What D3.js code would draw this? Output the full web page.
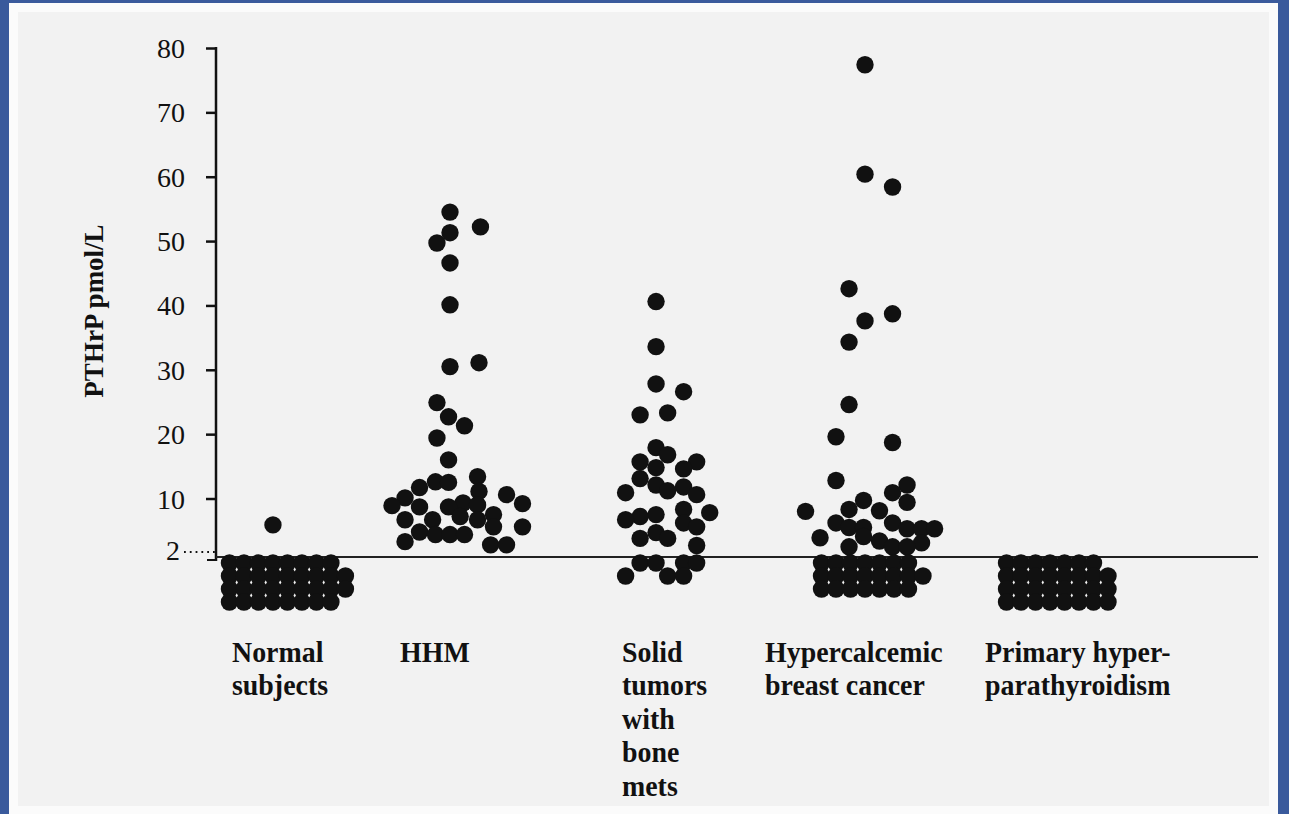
<!DOCTYPE html>
<html>
<head>
<meta charset="utf-8">
<script src="https://cdn.jsdelivr.net/npm/d3@7"></script>
<style>
  html, body { margin: 0; padding: 0; background: #3a5a9c; }
  svg { display: block; }
</style>
</head>
<body>
<svg id="chart" width="1289" height="814"></svg>
<script>
// ---- data -------------------------------------------------------------
const categories = ["Normal subjects", "HHM", "Solid tumors with bone mets",
                    "Hypercalcemic breast cancer", "Primary hyperparathyroidism"];
const categoryLines = [["Normal", "subjects"], ["HHM"],
                       ["Solid", "tumors", "with", "bone", "mets"],
                       ["Hypercalcemic", "breast cancer"],
                       ["Primary hyper-", "parathyroidism"]];
const yTicks = [10, 20, 30, 40, 50, 60, 70, 80];
const detectionLimit = 2;   // pmol/L

// measured PTHrP (pmol/L) and the lateral slot of each dot in its column
const normalValues = [5.9];
const normalSlots  = [-0.9];

const hhmValues = [54.5, 52.2, 51.3, 49.7, 46.6, 40.1, 31.1, 30.5, 24.9, 22.7, 21.3, 19.4,
                   16.0, 13.4, 12.6, 12.5, 11.7, 11.1, 10.6, 10.1, 9.3, 9.2, 9.0, 8.9, 8.7, 8.7,
                   7.5, 7.2, 6.7, 6.7, 6.7, 5.6, 5.6, 4.8, 4.4, 4.4, 4.4, 3.3, 2.8, 2.8];
const hhmSlots  = [-2.0, 0.1, -2.0, -2.9, -2.0, -2.0, 0.0, -2.0, -2.9, -2.1, -1.0, -2.9,
                   -2.1, -0.1, -3.0, -2.1, -4.1, 0.0, 1.9, -5.1, -1.1, 3.0, -0.1, -6.0, -4.1, -2.1,
                   1.0, -1.3, -5.1, -3.2, -0.1, 1.0, 3.0, -4.1, -3.0, -2.0, -1.0, -5.1, 0.8, 1.9];

const solidValues = [40.6, 33.6, 27.8, 26.6, 23.3, 23.0, 17.9, 16.8, 15.7, 15.7, 14.8, 14.6,
                     13.1, 12.1, 11.8, 11.2, 10.9, 10.6, 8.3, 7.8, 7.5, 7.2, 6.7, 6.2, 5.6,
                     4.7, 3.8, 3.8, 2.7];
const solidSlots  = [-1.1, -1.1, -1.1, 0.8, -0.3, -2.2, -1.1, -0.3, -2.2, 1.7, -1.1, 0.8,
                     -2.2, -1.1, 0.8, -0.3, -3.2, 1.7, 0.8, 2.6, -1.1, -2.2, -3.2, 0.8, 1.7,
                     -1.1, -2.2, -0.3, 1.7];

const breastValues = [77.4, 60.4, 58.4, 42.6, 38.7, 37.6, 34.3, 24.6, 19.6, 18.7, 12.8, 12.1, 10.9,
                      9.7, 9.4, 8.3, 8.1, 8.0, 6.2, 6.2, 5.5, 5.5, 5.3, 5.3, 5.3, 4.1, 3.9,
                      3.4, 3.1, 2.5, 2.5, 2.5];
const breastSlots  = [0.0, 0.0, 1.9, -1.1, 1.9, 0.0, -1.1, -1.1, -2.0, 1.9, -2.0, 2.9, 1.9,
                      -0.1, 2.9, -1.1, 1.0, -4.1, -2.0, 1.9, -1.1, -0.1, 2.9, 3.9, 4.8, -0.1, -3.1,
                      1.0, 3.9, 1.9, 2.9, -1.1];

const primaryValues = [];
const primarySlots  = [];

// results below the detection limit, stacked in rows under the baseline
const normalLowCounts  = [8, 9, 9, 8];
const normalLowStart   = -3.9;
const breastLowCounts  = [7, 8, 7];
const breastLowStart   = -3.0;
const primaryLowCounts = [7, 8, 8, 8];
const primaryLowStart  = -3.55;
const solidLowSlots    = [[-2.2, -1.1, 0.8, 1.7], [-3.2, -0.3, 0.8]];

// ---- layout -----------------------------------------------------------
const W = 1289, H = 814;
const dotR = 8.7;
const ink = "#111";
const serif = "'Liberation Serif', 'Times New Roman', 'DejaVu Serif', serif";

const x = d3.scalePoint().domain(categories).range([286, 1058]);
const y = d3.scaleLinear().domain([detectionLimit, 80]).range([550, 48]);
const slot = d3.scaleLinear().domain([0, 1]).range([0, 14.5]);
const lowRow = d3.scaleLinear().domain([0, 1]).range([563, 576]);
const labelDx = [-54, -79, -50, -100, -73];

const gridRows = (start, counts) => counts.map(n => d3.range(n).map(i => start + i));

const groups = [
  { cat: categories[0], values: normalValues,  slots: normalSlots,  low: gridRows(normalLowStart, normalLowCounts) },
  { cat: categories[1], values: hhmValues,     slots: hhmSlots,     low: [] },
  { cat: categories[2], values: solidValues,   slots: solidSlots,   low: solidLowSlots },
  { cat: categories[3], values: breastValues,  slots: breastSlots,  low: gridRows(breastLowStart, breastLowCounts) },
  { cat: categories[4], values: primaryValues, slots: primarySlots, low: gridRows(primaryLowStart, primaryLowCounts) }
];

const svg = d3.select("#chart");

// page: blue frame, white margin, pale paper
svg.append("rect").attr("width", W).attr("height", H).attr("fill", "#3a5a9c");
svg.append("rect").attr("x", 9).attr("y", 3).attr("width", W - 20).attr("height", H - 3).attr("fill", "#fbfbfb");
svg.append("rect").attr("x", 18).attr("y", 12).attr("width", W - 38).attr("height", H - 20).attr("fill", "#f2f2f2");

// y axis
const axisX = 216;
const yAxis = d3.axisLeft(y).tickValues(yTicks).tickSize(10).tickSizeOuter(0).tickPadding(21);
const gy = svg.append("g").attr("transform", `translate(${axisX},0)`).call(yAxis);
gy.select(".domain").remove();
gy.selectAll(".tick line").attr("stroke", ink).attr("stroke-width", 2.5);
gy.selectAll(".tick text").attr("fill", ink).attr("font-family", serif).attr("font-size", 28).attr("dy", "0.34em");

svg.append("line").attr("x1", axisX).attr("x2", axisX).attr("y1", y(80) - 1).attr("y2", 561)
  .attr("stroke", ink).attr("stroke-width", 2.5);
svg.append("line").attr("x1", axisX - 9).attr("x2", axisX + 1).attr("y1", 560).attr("y2", 560)
  .attr("stroke", ink).attr("stroke-width", 2);

// detection limit label with dotted leader
svg.append("text").attr("x", 180).attr("y", y(detectionLimit)).attr("dy", "0.34em")
  .attr("text-anchor", "end").attr("font-family", serif).attr("font-size", 28).attr("fill", ink)
  .text(detectionLimit);
svg.append("line").attr("x1", 184).attr("x2", axisX - 1).attr("y1", y(detectionLimit) + 2).attr("y2", y(detectionLimit) + 2)
  .attr("stroke", ink).attr("stroke-width", 1.8).attr("stroke-dasharray", "1.8,4");

// baseline separating detectable from undetectable results
svg.append("line").attr("x1", axisX).attr("x2", 1258).attr("y1", 557).attr("y2", 557)
  .attr("stroke", "#222").attr("stroke-width", 2.2);

// axis title
svg.append("text").attr("transform", `translate(103,311) rotate(-90)`)
  .attr("text-anchor", "middle").attr("font-family", serif).attr("font-weight", "bold")
  .attr("font-size", 27).attr("fill", ink).text("PTHrP pmol/L");

// dots
groups.forEach(g => {
  const cx0 = x(g.cat);
  const gg = svg.append("g");
  gg.selectAll("circle.hi").data(g.values).join("circle")
    .attr("class", "hi")
    .attr("cx", (d, i) => cx0 + slot(g.slots[i]))
    .attr("cy", d => y(d))
    .attr("r", dotR).attr("fill", ink);
  const lows = g.low.flatMap((row, r) => row.map(s => ({ r, s })));
  gg.selectAll("circle.lo").data(lows).join("circle")
    .attr("class", "lo")
    .attr("cx", d => cx0 + slot(d.s))
    .attr("cy", d => lowRow(d.r))
    .attr("r", dotR).attr("fill", ink);
});

// category labels (narrow bold serif)
categoryLines.forEach((lines, i) => {
  const t = svg.append("text")
    .attr("transform", `translate(${x(categories[i]) + labelDx[i]},662) scale(0.93,1)`)
    .attr("font-family", serif).attr("font-weight", "bold").attr("font-size", 30).attr("fill", ink);
  lines.forEach((ln, j) => {
    t.append("tspan").attr("x", 0).attr("dy", j === 0 ? 0 : 33.5).text(ln);
  });
});
</script>
</body>
</html>
